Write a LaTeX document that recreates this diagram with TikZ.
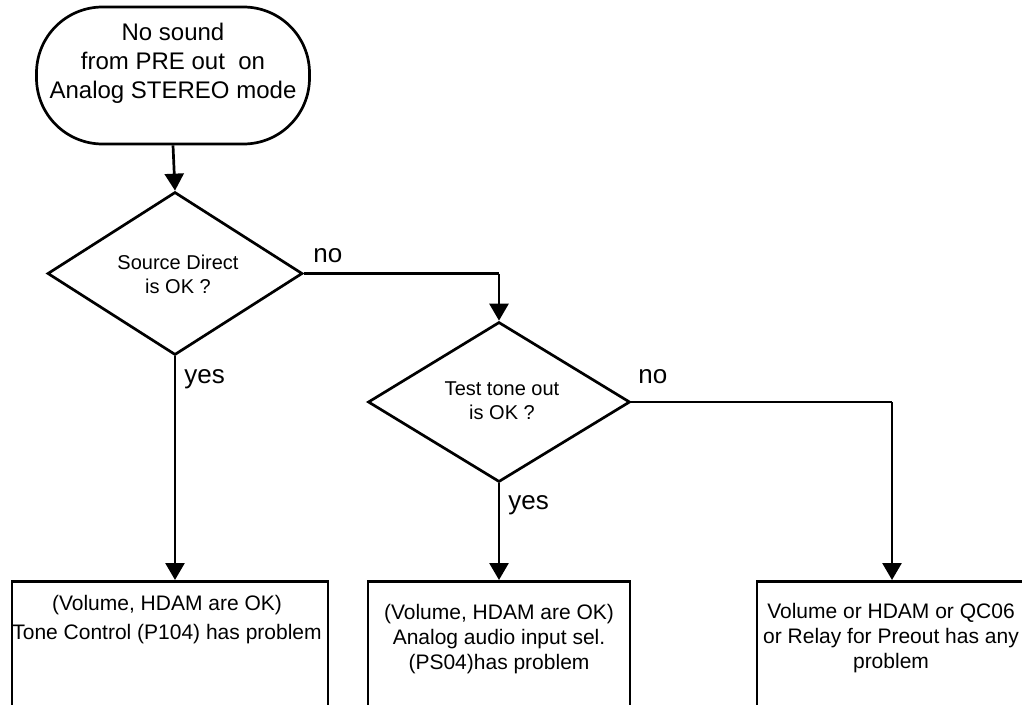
\documentclass[tikz,border=0pt]{standalone}
\usepackage{fontspec}
\setmainfont{Liberation Sans}
\usetikzlibrary{shapes.geometric,arrows.meta}
\begin{document}
\begin{tikzpicture}[x=1pt,y=-1pt,
  line width=2.7pt,
  flow/.style={draw,line width=2.7pt,-{Triangle[length=17pt,width=19pt]}},
  plainline/.style={draw,line width=2.7pt},
  decision/.style={draw,diamond,inner sep=0pt,line width=2.7pt},
  outbox/.style={draw,rectangle,inner sep=0pt,line width=2.7pt},
  dtext/.style={align=center,font=\fontsize{20}{24}\selectfont,inner sep=0pt},
  btext/.style={align=center,font=\fontsize{21}{25}\selectfont,inner sep=0pt},
  lbl/.style={font=\fontsize{26}{30}\selectfont,inner sep=0pt}]
\useasboundingbox (0,0) rectangle (1022,704);
\clip (0,0) rectangle (1022,704);
\fill[white] (0,0) rectangle (1022,704);

% start terminal
\node[draw,rectangle,rounded corners=66pt,minimum width=273pt,minimum height=137pt,line width=2.7pt] (start) at (173,75.5) {};
\node[align=center,font=\fontsize{24}{29}\selectfont,inner sep=0pt] (starttext) at (173,63) {No sound\\from PRE out\ \ on\\Analog STEREO mode};

% decisions
\node[decision,minimum width=255pt,minimum height=163pt] (d1) at (175,273.5) {};
\node[dtext] (d1text) at (178,274) {Source Direct\\is OK ?};
\node[decision,minimum width=262pt,minimum height=160pt] (d2) at (499,402) {};
\node[dtext] (d2text) at (502,401) {Test tone out\\is OK ?};

% result boxes
\node[outbox,minimum width=316pt,minimum height=180pt,anchor=north] (b1) at (170,580) {};
\node[outbox,minimum width=262pt,minimum height=180pt,anchor=north] (b2) at (499,580) {};
\node[outbox,minimum width=270pt,minimum height=180pt,anchor=north] (b3) at (892,580) {};

\node[btext] (b1text) at (167,620) {(Volume, HDAM are OK)\\[4pt]Tone Control (P104) has problem};
\node[btext] (b2text) at (499,639) {(Volume, HDAM are OK)\\Analog audio input sel.\\(PS04)has problem};
\node[btext] (b3text) at (891,638) {Volume or HDAM or QC06\\or Relay for Preout has any\\problem};

% connectors
\coordinate (c1) at (d2.north |- d1.east);
\coordinate (c2) at (b3.north |- d2.east);
\draw[flow] (start.south) -- (d1.north);
\draw[plainline] (d1.east) -- (c1);
\draw[flow] (c1) -- (d2.north);
\draw[flow] (d1.south) -- (d1.south |- b1.north);
\draw[flow] (d2.south) -- (d2.south |- b2.north);
\draw[plainline] (d2.east) -- (c2);
\draw[flow] (c2) -- (b3.north);

% labels
\node[lbl,anchor=base west] (no1) at (312,262) {no};
\node[lbl,anchor=base west] (yes1) at (183,383) {yes};
\node[lbl,anchor=base west] (no2) at (637,383) {no};
\node[lbl,anchor=base west] (yes2) at (507,509) {yes};
\end{tikzpicture}
\end{document}
